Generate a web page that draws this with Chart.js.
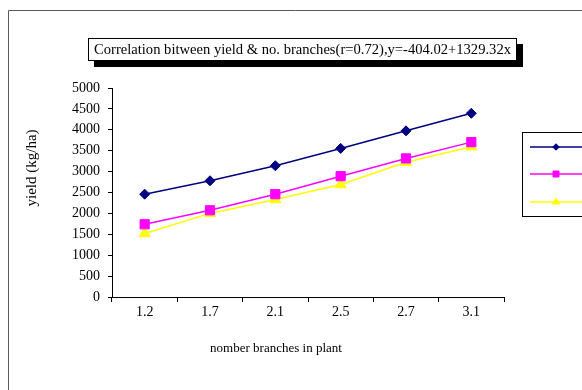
<!DOCTYPE html>
<html>
<head>
<meta charset="utf-8">
<script src="https://cdn.jsdelivr.net/npm/chart.js@4/dist/chart.umd.min.js"></script>
<style>
  html, body { margin: 0; padding: 0; background: #fff; }
  #wrap { width: 582px; height: 390px; position: relative; }
</style>
</head>
<body>
<div id="wrap"><canvas id="c" width="582" height="390"></canvas></div>
<script>
// Number of branches per plant (category axis)
const branches = ['1.2', '1.7', '2.1', '2.5', '2.7', '3.1'];

// Yield (kg/ha) for the three series
const yieldA = [2460, 2780, 3140, 3555, 3975, 4395];
const yieldB = [1740, 2075, 2460, 2890, 3315, 3705];
const yieldC = [1520, 2000, 2330, 2690, 3225, 3595];

const seriesNames = ['Series1', 'Series2', 'Series3'];

// Axis range and tick step
const yMin = 0;
const yMax = 5000;
const yStep = 500;

const titleText = 'Correlation bitween yield & no. branches(r=0.72),y=-404.02+1329.32x';
const xTitle = 'nomber branches in plant';
const yTitle = 'yield (kg/ha)';

const SERIF = "'Liberation Serif', 'Times New Roman', serif";

// Frame, boxed title with drop shadow, axis titles and the legend box
const decorations = {
  id: 'decorations',
  beforeDraw(chart) {
    const ctx = chart.ctx;
    ctx.save();
    ctx.fillStyle = '#fff';
    ctx.fillRect(0, 0, chart.width, chart.height);
    // outer frame, running off the right and bottom edges
    ctx.strokeStyle = '#5a5a5a';
    ctx.lineWidth = 1;
    ctx.beginPath();
    ctx.moveTo(8.5, chart.height + 2);
    ctx.lineTo(8.5, 10.5);
    ctx.lineTo(chart.width + 2, 10.5);
    ctx.stroke();
    ctx.restore();
  },
  afterDraw(chart) {
    const ctx = chart.ctx;
    ctx.save();

    // title box with shadow
    const bx = 88, by = 38, bw = 429, bh = 23;
    ctx.fillStyle = '#000';
    ctx.fillRect(bx + 6, by + 6, bw, bh);
    ctx.fillStyle = '#fff';
    ctx.fillRect(bx, by, bw, bh);
    ctx.strokeStyle = '#000';
    ctx.lineWidth = 1;
    ctx.strokeRect(bx + 0.5, by + 0.5, bw - 1, bh - 1);
    ctx.fillStyle = '#000';
    ctx.font = '14.6px ' + SERIF;
    ctx.textAlign = 'center';
    ctx.textBaseline = 'middle';
    ctx.fillText(titleText, bx + bw / 2, by + bh / 2 + 1);

    // axis titles
    ctx.font = '13px ' + SERIF;
    ctx.fillText(xTitle, 276, 349);
    ctx.save();
    ctx.font = '15px ' + SERIF;
    ctx.translate(32, 168);
    ctx.rotate(-Math.PI / 2);
    ctx.fillText(yTitle, 0, 0);
    ctx.restore();

    // legend box (extends past the right edge)
    ctx.strokeStyle = '#000';
    ctx.lineWidth = 1;
    ctx.strokeRect(522.5, 132.5, 80, 84);
    const rows = [147, 174, 202];
    chart.data.datasets.forEach((ds, i) => {
      const y = rows[i];
      ctx.strokeStyle = ds.borderColor;
      ctx.lineWidth = 1.5;
      ctx.beginPath();
      ctx.moveTo(530, y);
      ctx.lineTo(chart.width + 2, y);
      ctx.stroke();
      ctx.fillStyle = ds.pointBackgroundColor;
      ctx.strokeStyle = ds.pointBorderColor;
      ctx.lineWidth = 1;
      Chart.helpers.drawPoint(ctx, {
        pointStyle: ds.pointStyle,
        radius: ds.pointRadius * 0.65,
        rotation: 0,
        borderWidth: 1
      }, 556, y);
    });
    ctx.restore();
  }
};

function makeSet(label, data, color, style, radius) {
  return {
    label,
    data,
    borderColor: color,
    backgroundColor: color,
    pointBackgroundColor: color,
    pointBorderColor: color,
    pointStyle: style,
    pointRadius: radius,
    pointBorderWidth: 1,
    borderWidth: 1.5,
    tension: 0,
    fill: false
  };
}

new Chart(document.getElementById('c'), {
  type: 'line',
  data: {
    labels: branches,
    datasets: [
      makeSet(seriesNames[0], yieldA, '#000080', 'rectRot', 5),
      makeSet(seriesNames[1], yieldB, '#ff00ff', 'rect', 6.5),
      makeSet(seriesNames[2], yieldC, '#ffff00', 'triangle', 6.3)
    ]
  },
  options: {
    responsive: false,
    animation: false,
    devicePixelRatio: 1,
    layout: { padding: { top: 88, right: 78, left: 0, bottom: 0 } },
    plugins: {
      legend: { display: false },
      title: { display: false },
      tooltip: { enabled: false }
    },
    scales: {
      x: {
        offset: true,
        grid: {
          offset: true,
          drawOnChartArea: false,
          drawTicks: true,
          tickLength: 5,
          color: '#000'
        },
        border: { color: '#000', width: 1 },
        ticks: {
          color: '#000',
          font: { family: SERIF, size: 14 },
          padding: 2,
          maxRotation: 0
        },
        afterFit(scale) { scale.height = 93; }
      },
      y: {
        min: yMin,
        max: yMax,
        grid: {
          drawOnChartArea: false,
          drawTicks: true,
          tickLength: 4,
          color: '#000'
        },
        border: { color: '#000', width: 1 },
        ticks: {
          stepSize: yStep,
          color: '#000',
          font: { family: SERIF, size: 14 },
          padding: 8,
          callback: (v) => String(v)
        },
        afterFit(scale) { scale.width = 112; }
      }
    }
  },
  plugins: [decorations]
});
</script>
</body>
</html>
